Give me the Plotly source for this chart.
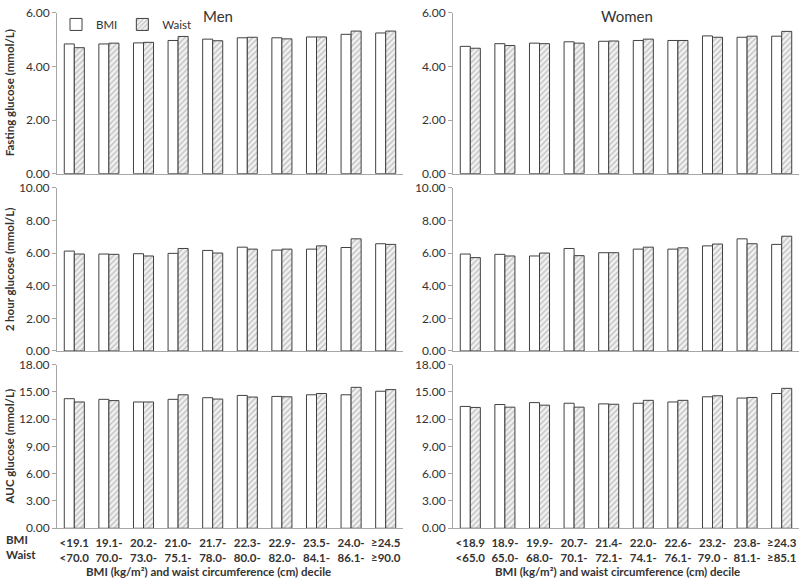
import plotly.graph_objects as go

W, H = 800, 584

# ---------------- data ----------------
men_bmi_labels = ["&lt;19.1", "19.1-", "20.2-", "21.0-", "21.7-", "22.3-", "22.9-", "23.5-", "24.0-", "≥24.5"]
men_waist_labels = ["&lt;70.0", "70.0-", "73.0-", "75.1-", "78.0-", "80.0-", "82.0-", "84.1-", "86.1-", "≥90.0"]
women_bmi_labels = ["&lt;18.9", "18.9-", "19.9-", "20.7-", "21.4-", "22.0-", "22.6-", "23.2-", "23.8-", "≥24.3"]
women_waist_labels = ["&lt;65.0", "65.0-", "68.0-", "70.1-", "72.1-", "74.1-", "76.1-", "79.0 -", "81.1-", "≥85.1"]

men_fasting_bmi = [4.84, 4.84, 4.88, 4.97, 5.02, 5.07, 5.07, 5.10, 5.20, 5.25]
men_fasting_waist = [4.70, 4.87, 4.90, 5.12, 4.96, 5.09, 5.03, 5.10, 5.32, 5.32]
women_fasting_bmi = [4.75, 4.85, 4.87, 4.92, 4.94, 4.97, 4.97, 5.14, 5.09, 5.13]
women_fasting_waist = [4.68, 4.78, 4.85, 4.87, 4.95, 5.02, 4.97, 5.09, 5.13, 5.31]

men_2h_bmi = [6.12, 5.94, 5.96, 5.98, 6.16, 6.36, 6.18, 6.24, 6.34, 6.57]
men_2h_waist = [5.94, 5.92, 5.82, 6.28, 6.00, 6.24, 6.24, 6.44, 6.87, 6.53]
women_2h_bmi = [5.94, 5.92, 5.82, 6.28, 6.02, 6.24, 6.24, 6.44, 6.87, 6.53]
women_2h_waist = [5.72, 5.82, 6.00, 5.84, 6.02, 6.36, 6.32, 6.55, 6.57, 7.03]

men_auc_bmi = [14.25, 14.18, 13.89, 14.18, 14.36, 14.61, 14.50, 14.68, 14.68, 15.07]
men_auc_waist = [13.89, 14.04, 13.89, 14.68, 14.21, 14.43, 14.46, 14.82, 15.50, 15.25]
women_auc_bmi = [13.40, 13.61, 13.82, 13.75, 13.68, 13.75, 13.89, 14.46, 14.32, 14.82]
women_auc_waist = [13.29, 13.32, 13.54, 13.32, 13.64, 14.07, 14.07, 14.57, 14.39, 15.39]

y_titles = ["Fasting glucose (mmol/L)", "2 hour glucose (mmol/L)", "AUC glucose (mmol/L)"]
y_ranges = [(0, 6), (0, 10), (0, 18)]
y_dticks = [2, 2, 3]
x_title = "BMI (kg/m²) and waist circumference (cm) decile"

# ---------------- layout helpers ----------------
FONT = "Lato, 'Open Sans', sans-serif"
AXIS_COL = "#a6a6a6"
TEXT_COL = "#333333"

col_px = [(57, 403), (453, 799)]
row_px = [(5, 170), (184.5, 352), (366, 534)]

def xdom(c):
    return [col_px[c][0] / W, col_px[c][1] / W]

def ydom(r):
    top, bot = row_px[r]
    return [1 - bot / H, 1 - top / H]

data = {
    (0, 0): (men_fasting_bmi, men_fasting_waist),
    (0, 1): (women_fasting_bmi, women_fasting_waist),
    (1, 0): (men_2h_bmi, men_2h_waist),
    (1, 1): (women_2h_bmi, women_2h_waist),
    (2, 0): (men_auc_bmi, men_auc_waist),
    (2, 1): (women_auc_bmi, women_auc_waist),
}
cat_labels = {
    0: [f"<b>{b}<br>{w}</b>" for b, w in zip(men_bmi_labels, men_waist_labels)],
    1: [f"<b>{b}<br>{w}</b>" for b, w in zip(women_bmi_labels, women_waist_labels)],
}

fig = go.Figure()
layout = {}
annotations = []

idx = 0
for r in range(3):
    for c in range(2):
        idx += 1
        xa = "x" if idx == 1 else f"x{idx}"
        ya = "y" if idx == 1 else f"y{idx}"
        bmi, waist = data[(r, c)]
        cats = list(range(10))
        fig.add_trace(go.Bar(
            x=cats, y=bmi, name="BMI", xaxis=xa, yaxis=ya,
            marker=dict(color="white", line=dict(color="#404040", width=1)),
            showlegend=(idx == 1), legendgroup="bmi",
        ))
        fig.add_trace(go.Bar(
            x=cats, y=waist, name="Waist", xaxis=xa, yaxis=ya,
            marker=dict(color="white", line=dict(color="#404040", width=1),
                        pattern=dict(shape="/", fgcolor="#8c8c8c", bgcolor="#f2f2f2",
                                     size=4, solidity=0.35)),
            showlegend=(idx == 1), legendgroup="waist",
        ))
        xkey = "xaxis" if idx == 1 else f"xaxis{idx}"
        ykey = "yaxis" if idx == 1 else f"yaxis{idx}"
        xaxis = dict(
            domain=xdom(c), anchor=ya, range=[-0.5, 9.5],
            showline=True, linecolor=AXIS_COL, linewidth=1,
            tickmode="array", tickvals=cats,
            showticklabels=(r == 2),
            ticks="outside" if r == 2 else "", ticklen=4, tickcolor="rgba(0,0,0,0)",
            tickfont=dict(size=11.5, color=TEXT_COL, family=FONT),
            showgrid=False, zeroline=False, fixedrange=True,
        )
        if r == 2:
            xaxis["ticktext"] = cat_labels[c]
        layout[xkey] = xaxis
        layout[ykey] = dict(
            domain=ydom(r), anchor=xa, range=list(y_ranges[r]),
            dtick=y_dticks[r], tick0=0, tickformat=".2f",
            showline=True, linecolor=AXIS_COL, linewidth=1,
            ticks="outside", ticklen=4, tickcolor=AXIS_COL,
            tickfont=dict(size=12, color=TEXT_COL, family=FONT),
            showgrid=False, zeroline=False, fixedrange=True,
        )

# y-axis titles (left column only)
for r in range(3):
    d = ydom(r)
    annotations.append(dict(
        text=f"<b>{y_titles[r]}</b>", xref="paper", yref="paper",
        x=9 / W, y=(d[0] + d[1]) / 2, textangle=-90, showarrow=False,
        font=dict(size=11.5, color=TEXT_COL, family=FONT),
        xanchor="center", yanchor="middle",
    ))

# panel titles
annotations.append(dict(text="Men", xref="paper", yref="paper", x=218 / W, y=1 - 8 / H,
                        showarrow=False, font=dict(size=15, color=TEXT_COL, family=FONT),
                        xanchor="center", yanchor="middle"))
annotations.append(dict(text="Women", xref="paper", yref="paper", x=627 / W, y=1 - 8 / H,
                        showarrow=False, font=dict(size=15, color=TEXT_COL, family=FONT),
                        xanchor="center", yanchor="middle"))

# row labels
annotations.append(dict(text="<b>BMI</b>", xref="paper", yref="paper", x=4 / W, y=1 - 546 / H,
                        showarrow=False, font=dict(size=11.5, color=TEXT_COL, family=FONT),
                        xanchor="left", yanchor="middle"))
annotations.append(dict(text="<b>Waist</b>", xref="paper", yref="paper", x=4 / W, y=1 - 561 / H,
                        showarrow=False, font=dict(size=11.5, color=TEXT_COL, family=FONT),
                        xanchor="left", yanchor="middle"))

# x-axis titles
for cx in (208, 617):
    annotations.append(dict(text=f"<b>{x_title}</b>", xref="paper", yref="paper", x=cx / W,
                            y=1 - 578 / H, showarrow=False,
                            font=dict(size=11.5, color=TEXT_COL, family=FONT),
                            xanchor="center", yanchor="middle"))

fig.update_layout(
    width=W, height=H,
    margin=dict(l=0, r=0, t=0, b=0),
    paper_bgcolor="white", plot_bgcolor="white",
    barmode="group", bargap=0.42, bargroupgap=0,
    font=dict(family=FONT, color=TEXT_COL, size=11),
    legend=dict(orientation="h", x=56 / W, y=1 - 2 / H, xanchor="left", yanchor="top",
                bgcolor="rgba(0,0,0,0)", font=dict(size=11.5, color=TEXT_COL, family=FONT),
                itemwidth=30, tracegroupgap=0),
    annotations=annotations,
    **layout,
)

fig.write_html(
    "out.html",
    config={"displayModeBar": False},
    post_script="document.body.style.margin='0';document.body.style.overflow='hidden';",
)
